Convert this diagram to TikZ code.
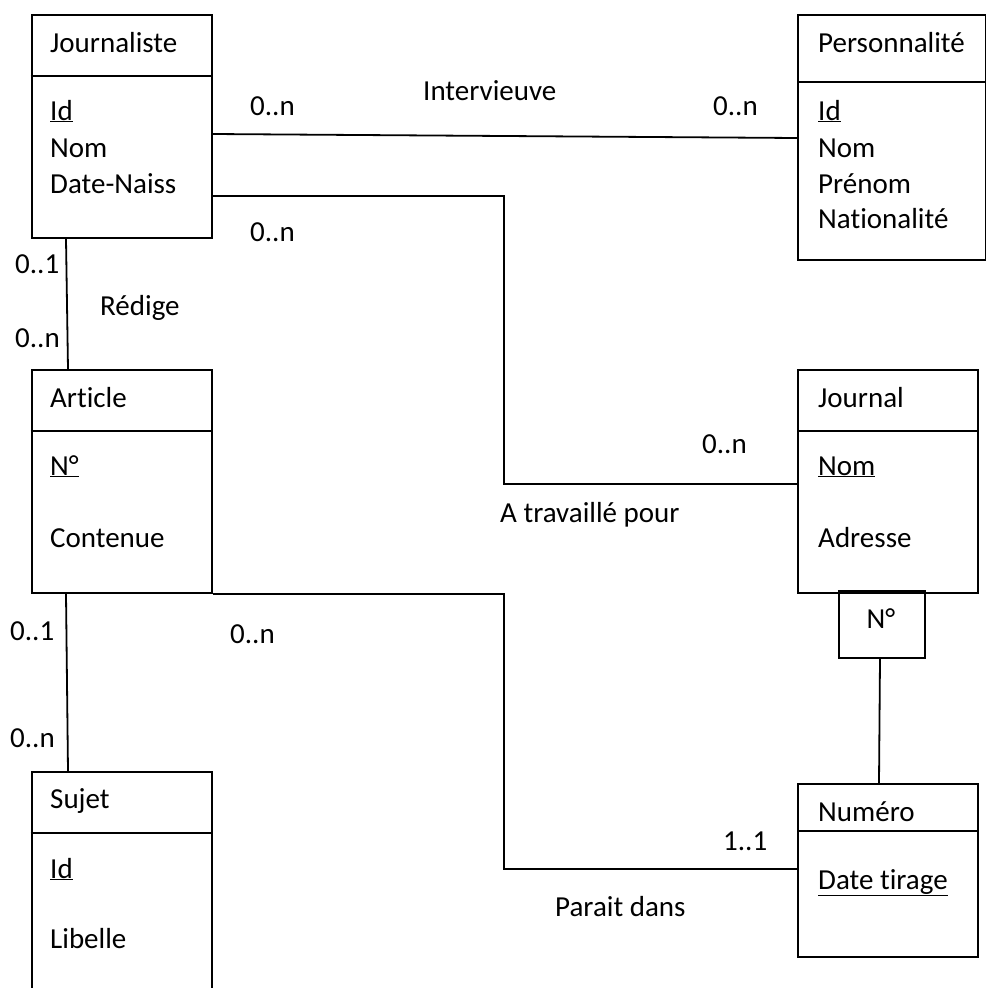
\documentclass[tikz,border=0pt]{standalone}
\usepackage{fontspec}
\setmainfont{Carlito}[Ligatures={NoCommon}]
\begin{document}
\begin{tikzpicture}[x=1pt,y=-1pt,
  ent/.style={draw, line width=1.8pt, inner sep=0pt, anchor=north west, minimum width=180pt},
  txt/.style={anchor=base west, inner sep=0pt, font=\fontsize{29}{34}\selectfont},
  ctxt/.style={anchor=base, inner sep=0pt, font=\fontsize{29}{34}\selectfont},
  lnk/.style={line width=1.8pt},
  dvd/.style={line width=1.8pt}]
\useasboundingbox (0,0) rectangle (986,988);
\clip (0,0) rectangle (986,988);
% entities
\node[ent, minimum height=223pt] (journ) at (30.7,14) {};
\node[ent, minimum height=245pt, minimum width=187.5pt] (pers) at (797,14) {};
\node[ent, minimum height=223pt] (art) at (30.7,369) {};
\node[ent, minimum height=223pt] (jnal) at (797,369) {};
\node[ent, minimum height=67pt, minimum width=86pt] (nbox) at (838,590) {};
\node[ent, minimum height=240pt] (suj) at (30.7,771) {};
\node[ent, minimum height=173pt] (num) at (797,783) {};
% dividers
\draw[dvd] (journ.west |- 0,76) -- (journ.east |- 0,76);
\draw[dvd] (pers.west |- 0,82) -- (pers.east |- 0,82);
\draw[dvd] (art.west |- 0,431) -- (art.east |- 0,431);
\draw[dvd] (jnal.west |- 0,431) -- (jnal.east |- 0,431);
\draw[dvd] (suj.west |- 0,833) -- (suj.east |- 0,833);
\draw[dvd] (num.west |- 0,831) -- (num.east |- 0,831);
% entity texts
\node[txt] (t1) at (50,52) {Journaliste};
\node[txt] (t2) at (50,120) {\underline{Id}};
\node[txt] (t3) at (50,157) {Nom};
\node[txt] (t4) at (50,193) {Date-Naiss};
\node[txt] (p1) at (818,52) {Personnalité};
\node[txt] (p2) at (818,120) {\underline{Id}};
\node[txt] (p3) at (818,157) {Nom};
\node[txt] (p4) at (818,193) {Prénom};
\node[txt] (p5) at (818,228) {Nationalité};
\node[txt] (a1) at (50,407) {Article};
\node[txt] (a2) at (50,475) {\underline{N°}};
\node[txt] (a3) at (50,547) {Contenue};
\node[txt] (j1) at (818,407) {Journal};
\node[txt] (j2) at (818,475) {\underline{Nom}};
\node[txt] (j3) at (818,547) {Adresse};
\node[ctxt] (n0) at (881,628) {N°};
\node[txt] (s1) at (50,808) {Sujet};
\node[txt] (s2) at (50,878) {\underline{Id}};
\node[txt] (s3) at (50,948) {Libelle};
\node[txt] (u1) at (818,821) {Numéro};
\node[txt] (u2) at (818,889) {\underline{Date tirage}};
% connectors
\coordinate (b1) at (504,484);
\coordinate (b2) at (504,869);
\draw[lnk] (journ.east |- 0,134) -- (pers.west |- 0,138);
\draw[lnk] (journ.east |- 0,196) -| (b1) -- (jnal.west |- b1);
\draw[lnk] (art.south east) -| (b2) -- (num.west |- b2);
\draw[lnk] (journ.south -| 66,0) -- (art.north -| 68,0);
\draw[lnk] (art.south -| 66,0) -- (suj.north -| 68,0);
\draw[lnk] (nbox.south -| 880,0) -- (num.north -| 879,0);
% labels
\node[txt] (l1) at (250,115) {0..n};
\node[txt] (l2) at (423,100) {Intervieuve};
\node[txt] (l3) at (713,115) {0..n};
\node[txt] (l4) at (250,241) {0..n};
\node[txt] (l5) at (702,453) {0..n};
\node[txt] (l6) at (500,522) {A travaillé pour};
\node[txt] (l7) at (15,273) {0..1};
\node[txt] (l8) at (100,315) {Rédige};
\node[txt] (l9) at (15,347) {0..n};
\node[txt] (l10) at (10,640) {0..1};
\node[txt] (l11) at (230,643) {0..n};
\node[txt] (l12) at (10,747) {0..n};
\node[txt] (l13) at (723,850) {1..1};
\node[txt] (l14) at (555,916) {Parait dans};
\end{tikzpicture}
\end{document}
